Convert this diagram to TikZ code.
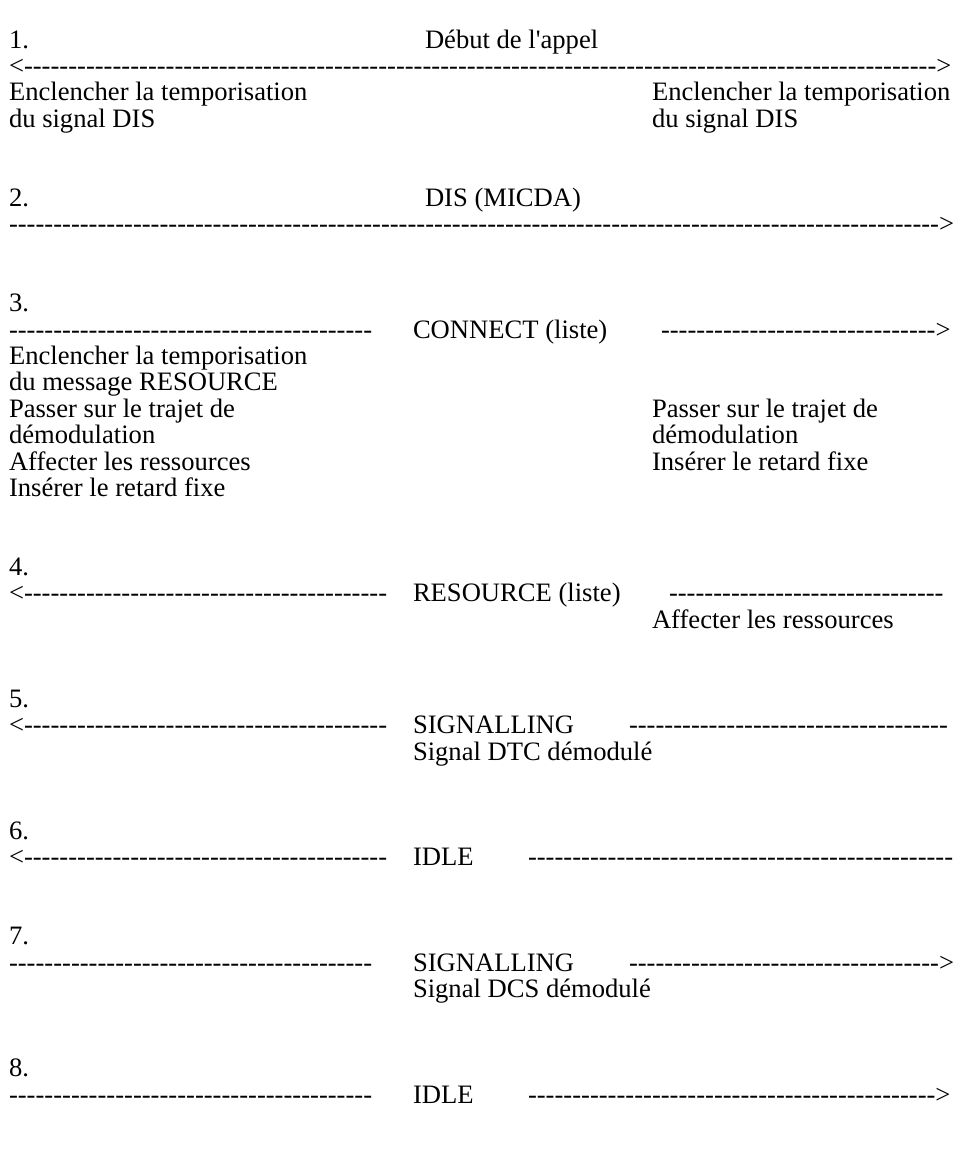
\documentclass[tikz,border=0pt]{standalone}
\usepackage{fontspec}
\newfontfamily\tnr{Liberation Serif}
\def\dd#1{\ifnum#1>0 -\expandafter\dd\expandafter{\number\numexpr#1-1\relax}\fi}
\begin{document}
\begin{tikzpicture}[x=1bp,y=-1bp,
  txt/.style={anchor=base west,inner sep=0pt,outer sep=0pt,
    font=\tnr\fontsize{26.6bp}{26.4bp}\selectfont}]
\useasboundingbox (0,0) rectangle (956,1159);
% 1
\node[txt] (n1) at (9,48) {1.};
\node[txt] (t1) at (425,48) {Début de l'appel};
\node[txt] (a1) at (9,74.4) {<\dd{103}>};
\node[txt] (l1a) at (9,100.75) {Enclencher la temporisation};
\node[txt] (l1b) at (9,127.1) {du signal DIS};
\node[txt] (r1a) at (652,100.75) {Enclencher la temporisation};
\node[txt] (r1b) at (652,127.1) {du signal DIS};
% 2
\node[txt] (n2) at (9,206.25) {2.};
\node[txt] (t2) at (425,206.25) {DIS (MICDA)};
\node[txt] (a2) at (9,232.6) {\dd{105}>};
% 3
\node[txt] (n3) at (9,311.75) {3.};
\node[txt] (a3l) at (9,338.1) {\dd{41}};
\node[txt] (t3) at (413,338.1) {CONNECT (liste)};
\node[txt] (a3r) at (661,338.1) {\dd{31}>};
\node[txt] (l3a) at (9,364.5) {Enclencher la temporisation};
\node[txt] (l3b) at (9,390.9) {du message RESOURCE};
\node[txt] (l3c) at (9,417.25) {Passer sur le trajet de};
\node[txt] (l3d) at (9,443.6) {démodulation};
\node[txt] (l3e) at (9,470) {Affecter les ressources};
\node[txt] (l3f) at (9,496.4) {Insérer le retard fixe};
\node[txt] (r3c) at (652,417.25) {Passer sur le trajet de};
\node[txt] (r3d) at (652,443.6) {démodulation};
\node[txt] (r3e) at (652,470) {Insérer le retard fixe};
% 4
\node[txt] (n4) at (9,575.5) {4.};
\node[txt] (a4l) at (9,601.9) {<\dd{41}};
\node[txt] (t4) at (413,601.9) {RESOURCE (liste)};
\node[txt] (a4r) at (669,601.9) {\dd{31}};
\node[txt] (r4) at (652,628.25) {Affecter les ressources};
% 5
\node[txt] (n5) at (9,707.4) {5.};
\node[txt] (a5l) at (9,733.75) {<\dd{41}};
\node[txt] (t5) at (413,733.75) {SIGNALLING};
\node[txt] (a5r) at (629,733.75) {\dd{36}};
\node[txt] (s5) at (413,760.1) {Signal DTC démodulé};
% 6
\node[txt] (n6) at (9,839.25) {6.};
\node[txt] (a6l) at (9,865.6) {<\dd{41}};
\node[txt] (t6) at (413,865.6) {IDLE};
\node[txt] (a6r) at (528,865.6) {\dd{48}};
% 7
\node[txt] (n7) at (9,944.75) {7.};
\node[txt] (a7l) at (9,971.1) {\dd{41}};
\node[txt] (t7) at (413,971.1) {SIGNALLING};
\node[txt] (a7r) at (629,971.1) {\dd{35}>};
\node[txt] (s7) at (413,997.5) {Signal DCS démodulé};
% 8
\node[txt] (n8) at (9,1076.6) {8.};
\node[txt] (a8l) at (9,1103) {\dd{41}};
\node[txt] (t8) at (413,1103) {IDLE};
\node[txt] (a8r) at (528,1103) {\dd{46}>};
\end{tikzpicture}
\end{document}
